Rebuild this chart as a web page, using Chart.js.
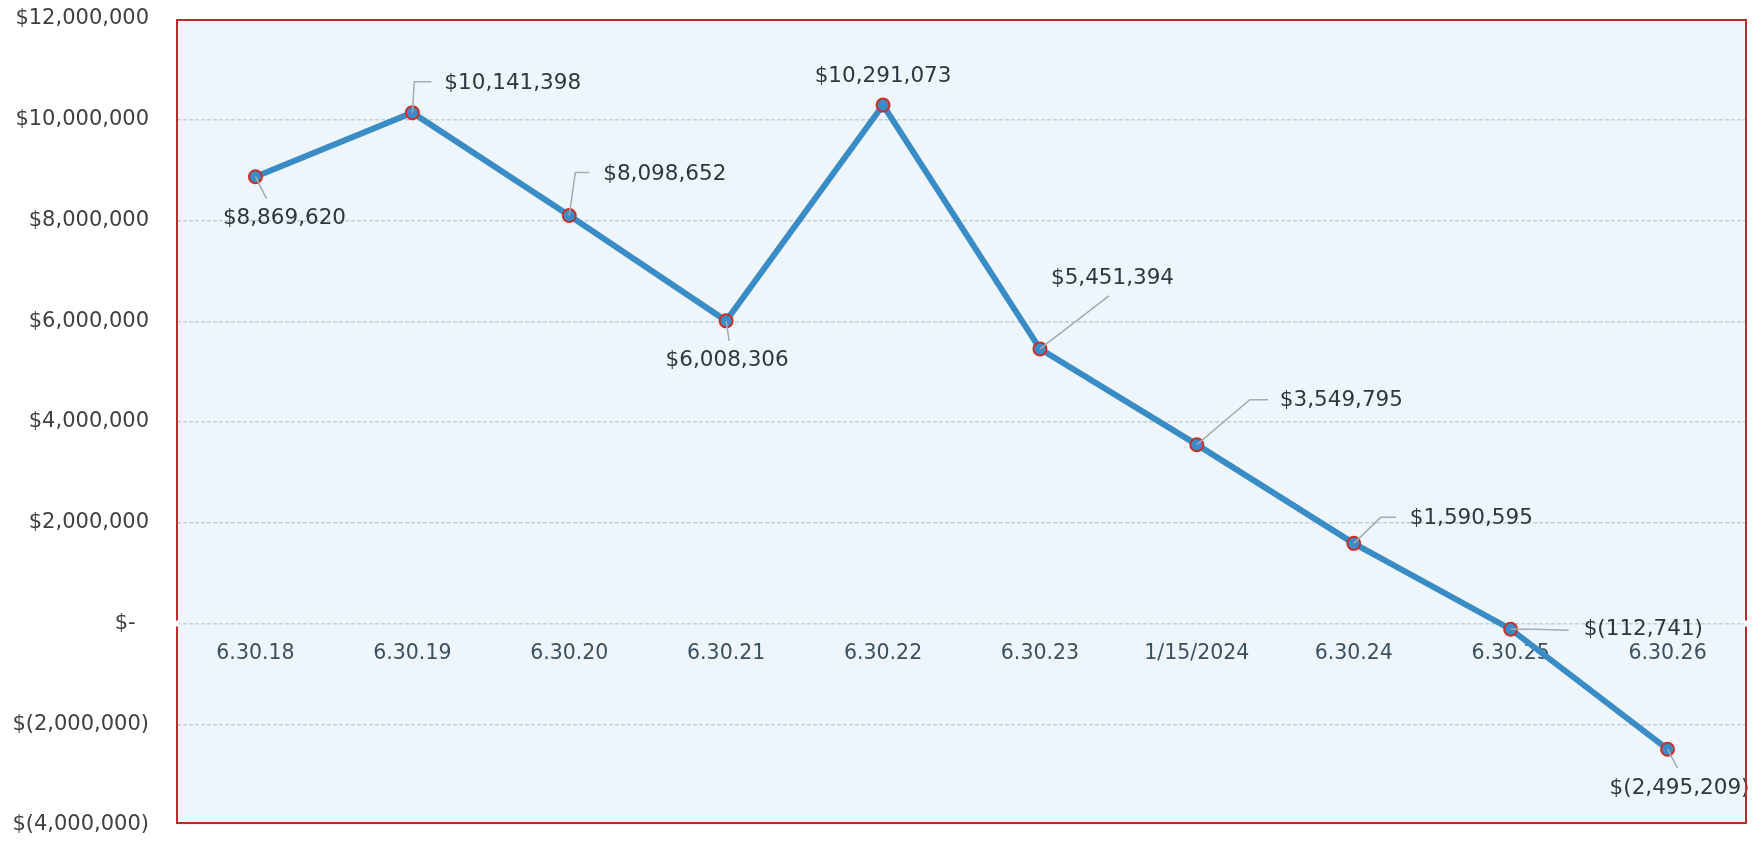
<!DOCTYPE html>
<html>
<head>
<meta charset="utf-8">
<script src="https://cdn.jsdelivr.net/npm/chart.js@4.4.1/dist/chart.umd.min.js"></script>
<style>
  html, body { margin: 0; padding: 0; background: #fff; }
  #wrap { width: 1763px; height: 841px; position: relative; }
</style>
</head>
<body>
<div id="wrap"><canvas id="balanceChart"></canvas></div>
<script>
// ── Data ───────────────────────────────
const periods = ['6.30.18','6.30.19','6.30.20','6.30.21','6.30.22','6.30.23','1/15/2024','6.30.24','6.30.25','6.30.26'];
const balances = [8869620, 10141398, 8098652, 6008306, 10291073, 5451394, 3549795, 1590595, -112741, -2495209];
const yMin = -4000000, yMax = 12000000, yStep = 2000000;

// label placement relative to each point: text anchor + leader line path
const labelPlacement = [
  { dx: 29, dy: 42, align: 'center', leader: [[11, 22]] },
  { dx: 32, dy: -29, align: 'left', leader: [[2, -31], [19, -31]] },
  { dx: 34, dy: -41, align: 'left', leader: [[6, -43], [20, -43]] },
  { dx: 1, dy: 40, align: 'center', leader: [[3, 20]] },
  { dx: 0, dy: -29, align: 'center', leader: [] },
  { dx: 11, dy: -70, align: 'left', leader: [[69, -53]] },
  { dx: 83, dy: -44, align: 'left', leader: [[53, -45], [71, -45]] },
  { dx: 56, dy: -25, align: 'left', leader: [[27, -26], [42, -26]] },
  { dx: 73, dy: 0, align: 'left', leader: [[25, 0], [58, 1]] },
  { dx: 12, dy: 39, align: 'center', leader: [[10, 19]] },
];

const FONT = '"DejaVu Sans", sans-serif';

const fmtMoney = v => {
  if (v === 0) return '$-  ';
  const s = Math.abs(v).toLocaleString('en-US');
  return v < 0 ? '$(' + s + ')' : '$' + s;
};

// plot background + red frame
const framePlugin = {
  id: 'frame',
  beforeDraw(chart) {
    const { ctx, chartArea: a } = chart;
    ctx.save();
    ctx.fillStyle = '#eef6fb';
    ctx.fillRect(a.left, a.top, a.right - a.left, a.bottom - a.top);
    ctx.restore();
  },
  afterDraw(chart) {
    const { ctx, chartArea: a } = chart;
    ctx.save();
    ctx.strokeStyle = '#c0282a';
    ctx.lineWidth = 2;
    ctx.strokeRect(a.left, a.top + 1, a.right - a.left, a.bottom - a.top - 3);
    // little white break in the frame at the zero line (as on the scan)
    const z = chart.scales.y.getPixelForValue(0);
    ctx.fillStyle = '#fff';
    ctx.fillRect(a.left - 2, z - 3, 4, 6);
    ctx.fillRect(a.right - 2, z - 3, 4, 6);
    ctx.restore();
  }
};

// value labels with grey leader lines
const valueLabels = {
  id: 'valueLabels',
  afterDatasetsDraw(chart) {
    const { ctx } = chart;
    const meta = chart.getDatasetMeta(0);
    ctx.save();
    meta.data.forEach((pt, i) => {
      const p = labelPlacement[i];
      if (p.leader.length) {
        ctx.beginPath();
        ctx.moveTo(pt.x, pt.y);
        p.leader.forEach(([lx, ly]) => ctx.lineTo(pt.x + lx, pt.y + ly));
        ctx.strokeStyle = '#a3abb3';
        ctx.lineWidth = 1.5;
        ctx.stroke();
      }
    });
    ctx.font = '21.5px ' + FONT;
    ctx.fillStyle = '#2b3742';
    ctx.textBaseline = 'middle';
    meta.data.forEach((pt, i) => {
      const p = labelPlacement[i];
      ctx.textAlign = p.align;
      ctx.fillText(fmtMoney(balances[i]), pt.x + p.dx, pt.y + p.dy);
    });
    ctx.restore();
  }
};

new Chart(document.getElementById('balanceChart').getContext('2d'), {
  type: 'line',
  data: {
    labels: periods,
    datasets: [{
      data: balances,
      borderColor: '#3a8cc6', borderWidth: 6,
      pointRadius: 6.5, pointHoverRadius: 6.5,
      pointBackgroundColor: '#3a8cc6', pointBorderColor: '#c8312b', pointBorderWidth: 2,
      tension: 0, fill: false
    }]
  },
  options: {
    responsive: true,
    maintainAspectRatio: false,
    animation: false,
    layout: { padding: { top: 19, bottom: 16, right: 17, left: 0 } },
    plugins: { legend: { display: false }, tooltip: { enabled: false } },
    scales: {
      x: {
        position: { y: 0 },
        offset: true,
        afterFit(scale) { scale.height = 0; },
        grid: { display: false, drawTicks: false },
        border: { display: false },
        ticks: { color: '#3c4f60', font: { family: FONT, size: 20.5 }, padding: 18, maxRotation: 0, autoSkip: false }
      },
      y: {
        min: yMin, max: yMax,
        afterFit(scale) { scale.width = 177; },
        grid: {
          drawTicks: true, tickLength: 26, tickColor: 'rgba(0,0,0,0)',
          color: c => (c.tick.value === yMin || c.tick.value === yMax) ? 'rgba(0,0,0,0)' : '#c6ced6',
          lineWidth: 1.5
        },
        border: { display: false, dash: [4, 2] },
        ticks: {
          stepSize: yStep,
          color: '#404040',
          font: { family: FONT, size: 21 },
          padding: 2,
          callback: v => fmtMoney(v)
        }
      }
    }
  },
  plugins: [framePlugin, valueLabels]
});
</script>
</body>
</html>
